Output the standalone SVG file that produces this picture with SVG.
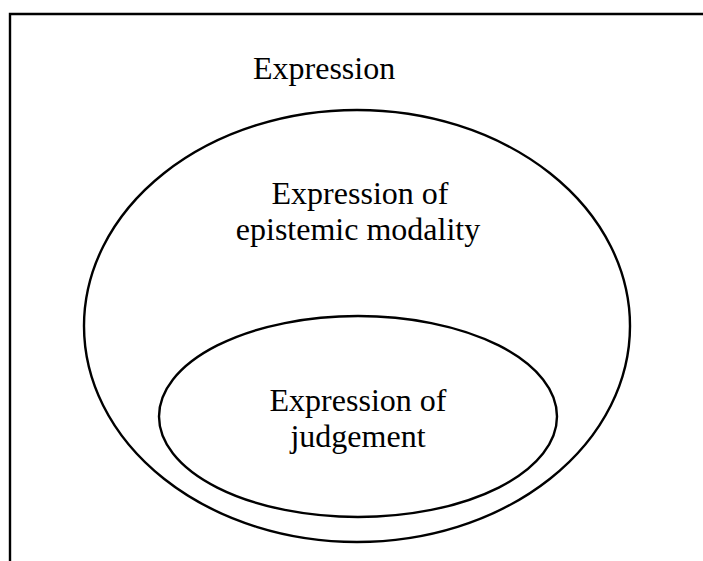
<svg xmlns="http://www.w3.org/2000/svg" width="703" height="561" viewBox="0 0 703 561">
<style>
.frame{stroke:#000;stroke-width:2.4;fill:none}
.ell{stroke:#000;stroke-width:2.4;fill:none}
.t{font-family:"Liberation Serif","Times New Roman",serif;font-size:32px;fill:#000}
.c{text-anchor:middle}
</style>
<rect width="703" height="561" fill="#fff"/>
<g id="frame">
<path class="frame" d="M10 561 V14 H703"/>
</g>
<g id="expression">
<text class="t" x="253" y="79">Expression</text>
</g>
<g id="epistemic">
<ellipse class="ell" cx="357" cy="326" rx="273" ry="216"/>
<text class="t c" x="360" y="204">Expression of</text>
<text class="t c" x="358" y="240">epistemic modality</text>
</g>
<g id="judgement">
<ellipse class="ell" cx="358" cy="416.5" rx="199" ry="100.5"/>
<text class="t c" x="358" y="411">Expression of</text>
<text class="t c" x="358" y="447">judgement</text>
</g>
<g id="connectors"></g>
</svg>
